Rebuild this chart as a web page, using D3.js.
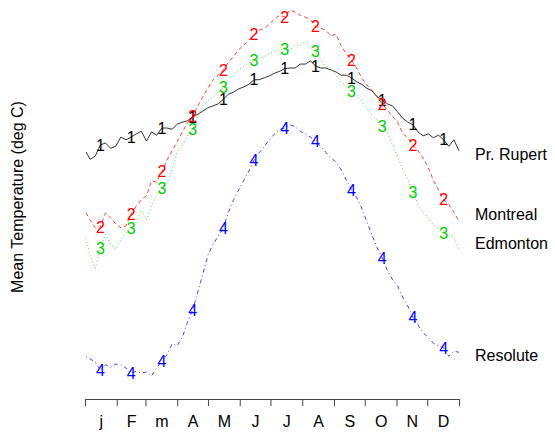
<!DOCTYPE html>
<html>
<head>
<meta charset="utf-8">
<script src="https://cdn.jsdelivr.net/npm/d3@7"></script>
<style>
    body { margin: 0; background: #fff; }
    text { font-family: "Liberation Sans", Arial, Helvetica, sans-serif; }
</style>
</head>
<body>
<svg id="chart" width="555" height="432"></svg>
<script>
// Day of year for each sample
const days = [1, 5, 10, 15, 20, 25, 30, 35, 40, 45, 50, 55, 60, 65, 70, 75, 80, 85, 90, 95,
    100, 105, 110, 115, 120, 125, 130, 135, 140, 145, 150, 155, 160, 165, 170, 175, 180, 185, 190, 195,
    200, 205, 210, 215, 220, 225, 230, 235, 240, 245, 250, 255, 260, 265, 270, 275, 280, 285, 290, 295,
    300, 305, 310, 315, 320, 325, 330, 335, 340, 345, 350, 355, 360, 365];

// Mean temperature (deg C) per station
const prRupert = [0.9, -0.2, 0.3, 2.0, 2.3, 1.5, 1.8, 3.2, 2.8, 3.2, 3.7, 4.1, 2.6, 4.0, 3.5, 4.6, 4.6, 4.4, 5.2, 5.5,
    5.7, 6.3, 6.7, 7.2, 7.7, 8.0, 8.3, 9.0, 9.8, 10.1, 10.6, 10.9, 11.3, 12.0, 12.0, 12.3, 12.6, 13.0, 13.3, 13.7,
    13.8, 13.8, 14.4, 14.4, 14.9, 14.1, 13.8, 13.8, 13.5, 13.2, 12.7, 12.7, 12.3, 11.7, 11.3, 10.7, 10.3, 9.4, 8.9, 8.3,
    8.0, 7.1, 6.1, 5.5, 5.1, 4.0, 3.4, 3.7, 3.1, 3.5, 2.8, 1.8, 2.8, 1.1];
const montreal = [-8.4, -9.5, -10.7, -10.6, -8.4, -9.2, -10.1, -10.7, -10.4, -8.6, -7.4, -6.4, -5.8, -3.5, -3.7, -2.1, -0.3, 1.1, 2.5, 4.0,
    5.4, 6.4, 8.0, 9.4, 10.7, 12.0, 12.7, 13.5, 14.7, 15.6, 16.6, 17.3, 18.1, 18.9, 19.6, 19.9, 20.6, 21.3, 21.9, 21.6,
    22.7, 22.4, 21.9, 21.6, 21.2, 20.2, 19.9, 19.6, 18.7, 19.0, 17.2, 16.0, 15.0, 13.8, 12.3, 11.2, 10.4, 9.4, 8.3, 7.4,
    6.4, 5.5, 3.8, 3.1, 2.0, 1.1, 0.0, -1.5, -3.4, -4.9, -6.4, -7.1, -8.3, -9.7];
const edmonton = [-12.3, -15.0, -16.9, -13.8, -11.7, -13.3, -14.0, -12.6, -11.5, -10.7, -9.8, -8.0, -9.5, -7.2, -5.7, -4.6, -3.8, -1.8, 0.9, 1.8,
    3.5, 4.4, 6.4, 8.0, 8.7, 9.4, 10.0, 10.9, 12.1, 12.9, 13.5, 14.1, 14.6, 15.0, 15.3, 15.5, 16.0, 16.4, 16.6, 16.7,
    16.6, 17.2, 17.3, 17.8, 17.0, 16.3, 15.0, 14.1, 13.8, 12.6, 11.7, 11.0, 10.3, 9.7, 8.7, 7.7, 6.6, 5.8, 4.9, 4.0,
    2.1, 0.2, -1.7, -3.2, -5.2, -7.1, -8.3, -9.2, -10.3, -10.9, -11.5, -12.0, -12.0, -14.1];
const resolute = [-30.5, -30.8, -31.3, -32.5, -31.7, -32.1, -31.6, -31.7, -32.2, -33.0, -32.7, -33.0, -32.8, -33.4, -32.2, -31.1, -30.2, -28.5, -28.8, -27.5,
    -25.2, -23.3, -20.6, -17.8, -14.9, -13.2, -12.0, -10.7, -8.3, -6.4, -4.9, -3.4, -2.0, -0.3, 0.8, 1.8, 2.8, 3.7, 4.4, 4.6,
    5.1, 4.8, 4.1, 3.7, 3.2, 2.5, 1.8, 0.9, 0.0, -0.6, -1.8, -3.4, -4.9, -6.0, -7.7, -9.7, -11.8, -13.7, -15.3, -17.2,
    -18.6, -19.6, -21.3, -22.7, -24.4, -25.6, -26.8, -27.5, -28.4, -28.8, -29.1, -30.4, -29.6, -29.8];

// Station names and where their names sit on the temperature scale
const stationNames = ["Pr. Rupert", "Montreal", "Edmonton", "Resolute"];
const nameTemps = [0.5, -8.7, -13.0, -30.2];

// Days on which the series numbers are printed
const labelDays = [15, 45, 75, 105, 135, 165, 195, 225, 260, 290, 320, 350];

// Month boundaries, month mid-points and their labels
const monthStarts = [0, 31, 59, 90, 120, 151, 181, 212, 243, 273, 304, 334, 365];
const monthMids = [15.5, 45, 74.5, 105, 135.5, 166, 196.5, 227.5, 258, 288.5, 319, 349.5];
const monthLabels = ["j", "F", "m", "A", "M", "J", "J", "A", "S", "O", "N", "D"];


/**
 * Draws the station temperature curves
 */
function drawChart() {
    let svg = d3.select("#chart");

    let series = [prRupert, montreal, edmonton, resolute];
    let colors = ["#000000", "#ff0000", "#00cd00", "#0000ff"];
    let dashes = [null, "4,3", "1,2.5", "1,3,4,3"];

    // Scales
    let x = d3.scaleLinear().domain([0, 365]).range([85, 459]);
    let y = d3.scaleLinear().domain([-34.5, 23]).range([383, 8]);

    let line = d3.line()
        .x(function (d) { return x(d[0]); })
        .y(function (d) { return y(d[1]); });

    // Curves
    series.forEach(function (values, i) {
        let pts = days.map(function (d, j) { return [d, values[j]]; });

        svg.append("path")
            .datum(pts)
            .attr("fill", "none")
            .attr("stroke", colors[i])
            .attr("stroke-width", 1)
            .attr("stroke-opacity", i === 0 ? 0.8 : 0.75)
            .attr("stroke-dasharray", dashes[i])
            .attr("d", line);

        // Series numbers on mid-month points
        svg.append("g")
            .selectAll("text")
            .data(pts.filter(function (p) { return labelDays.indexOf(p[0]) >= 0; }))
            .enter().append("text")
            .attr("x", function (p) { return x(p[0]); })
            .attr("y", function (p) { return y(p[1]); })
            .attr("dy", "0.36em")
            .attr("text-anchor", "middle")
            .attr("font-size", "16px")
            .attr("fill", colors[i])
            .text(i + 1);
    });

    // Month tick marks
    let axis = svg.append("g")
        .attr("transform", "translate(0,399)")
        .call(d3.axisBottom(x).tickValues(monthStarts).tickSize(7).tickSizeOuter(0).tickFormat(""));
    axis.select(".domain").attr("stroke", "#444");
    axis.selectAll(".tick line").attr("stroke", "#444");

    // Month labels
    let labels = svg.append("g")
        .attr("transform", "translate(0,399)")
        .call(d3.axisBottom(x).tickValues(monthMids).tickSize(0).tickPadding(17)
            .tickFormat(function (d, i) { return monthLabels[i]; }));
    labels.select(".domain").remove();
    labels.selectAll("text")
        .attr("font-family", "Liberation Sans, Arial, sans-serif")
        .attr("font-size", "16px")
        .attr("fill", "#000");

    // Station names on the right
    svg.append("g")
        .selectAll("text")
        .data(stationNames)
        .enter().append("text")
        .attr("x", 475)
        .attr("y", function (d, i) { return y(nameTemps[i]); })
        .attr("dy", "0.36em")
        .attr("font-size", "16px")
        .attr("fill", "#000")
        .text(function (d) { return d; });

    // Y axis title
    svg.append("text")
        .attr("transform", "translate(23,197) rotate(-90)")
        .attr("text-anchor", "middle")
        .attr("font-size", "16px")
        .attr("fill", "#000")
        .text("Mean Temperature (deg C)");
}

drawChart();
</script>
</body>
</html>
